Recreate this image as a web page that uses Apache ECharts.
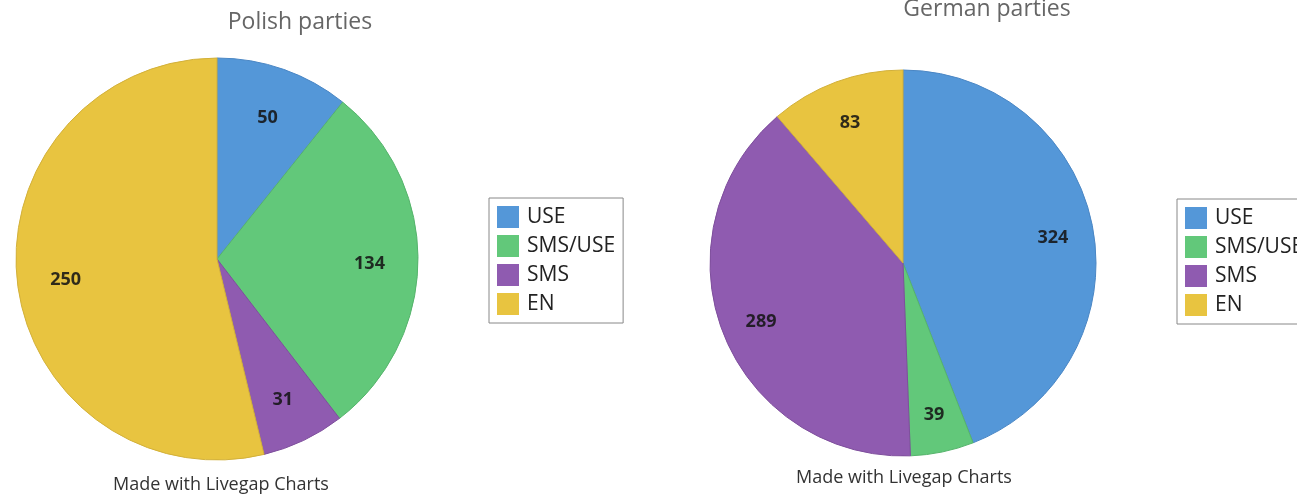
<!DOCTYPE html>
<html>
<head>
<meta charset="utf-8">
<script src="https://cdn.jsdelivr.net/npm/echarts@6/dist/echarts.min.js"></script>
<style>html,body{margin:0;padding:0;background:#fff;}#c{width:1297px;height:497px;}</style>
</head>
<body>
<div id="c"></div>
<script>
const categories = ['USE', 'SMS/USE', 'SMS', 'EN'];
const polishValues = [50, 134, 31, 250];
const germanValues = [324, 39, 289, 83];
const colors = ['#5497d8', '#62c87a', '#8f5bb0', '#e8c440'];
const borders = ['#4a86c4', '#55b36b', '#7e4e9c', '#d2b03a'];

function mk(values) {
  return categories.map((n, i) => ({ name: n, value: values[i], itemStyle: { color: colors[i], borderColor: borders[i] } }));
}
function labelData(values) {
  return categories.map((n, i) => ({ name: n, value: values[i] }));
}
const font = "'Open Sans', 'Noto Sans', sans-serif";
const chart = echarts.init(document.getElementById('c'));
const labelStyle = { show: true, position: 'inside', offset: [0, 3], color: 'rgba(20,20,20,0.88)', fontWeight: 'bold', fontSize: 18, fontFamily: font, formatter: '{c}' };
function legend(left, top) {
  return {
    left: left, top: top, orient: 'vertical', data: categories,
    icon: 'rect', itemWidth: 22, itemHeight: 22, itemGap: 7,
    itemStyle: { borderWidth: 0 },
    padding: [8, 8, 8, 8], borderColor: '#888', borderWidth: 1,
    selectedMode: false,
    textStyle: { fontFamily: font, fontSize: 21, color: '#222', lineHeight: 22, padding: [0, 0, 0, 3] }
  };
}
function title(text, x, y, size, color) {
  return { text: text, left: x, top: y, padding: 0, textAlign: 'center', textStyle: { fontFamily: font, fontSize: size, fontWeight: 'normal', color: color } };
}
chart.setOption({
  animation: false,
  title: [
    title('Polish parties', 300, 11, 23, '#666'),
    title('German parties', 987, -2, 23, '#666'),
    title('Made with Livegap Charts', 221, 476, 18, '#333'),
    title('Made with Livegap Charts', 904, 469, 18, '#333')
  ],
  legend: [legend(489, 198), legend(1177, 199)],
  series: [
    { type: 'pie', center: [217, 259], radius: 201, startAngle: 90, clockwise: true, data: mk(polishValues),
      label: { show: false }, labelLine: { show: false }, itemStyle: { borderWidth: 1 }, emphasis: { disabled: true } },
    { type: 'pie', center: [903, 263], radius: 193, startAngle: 90, clockwise: true, data: mk(germanValues),
      label: { show: false }, labelLine: { show: false }, itemStyle: { borderWidth: 1 }, emphasis: { disabled: true } },
    { type: 'pie', center: [217, 259], radius: [98, 201], startAngle: 90, silent: true, data: labelData(polishValues),
      itemStyle: { color: 'rgba(0,0,0,0)', borderWidth: 0 }, label: labelStyle, labelLine: { show: false }, emphasis: { disabled: true }, z: 5 },
    { type: 'pie', center: [903, 263], radius: [106, 193], startAngle: 90, silent: true, data: labelData(germanValues),
      itemStyle: { color: 'rgba(0,0,0,0)', borderWidth: 0 }, label: labelStyle, labelLine: { show: false }, emphasis: { disabled: true }, z: 5 }
  ]
});
</script>
</body>
</html>
